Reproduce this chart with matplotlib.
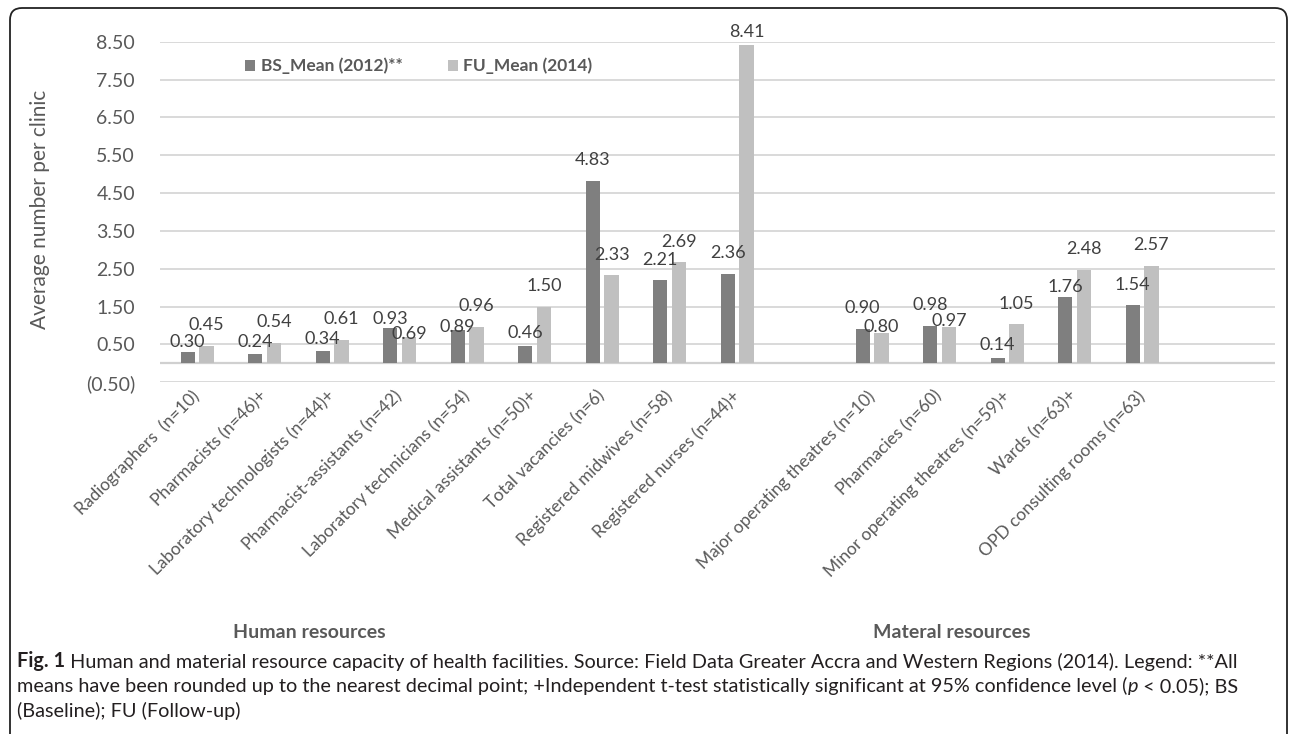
import numpy as np
import matplotlib.pyplot as plt
from matplotlib.patches import FancyBboxPatch, Patch
from matplotlib.transforms import IdentityTransform

plt.rcParams['font.family'] = ['Lato', 'DejaVu Sans']

# data
human_labels = ['Radiographers  (n=10)', 'Pharmacists (n=46)+', 'Laboratory technologists (n=44)+',
                'Pharmacist-assistants (n=42)', 'Laboratory technicians (n=54)',
                'Medical assistants (n=50)+', 'Total vacancies (n=6)',
                'Registered midwives (n=58)', 'Registered nurses (n=44)+']
human_bs = [0.30, 0.24, 0.34, 0.93, 0.89, 0.46, 4.83, 2.21, 2.36]
human_fu = [0.45, 0.54, 0.61, 0.69, 0.96, 1.50, 2.33, 2.69, 8.41]

material_labels = ['Major operating theatres (n=10)', 'Pharmacies (n=60)',
                   'Minor operating theatres (n=59)+', 'Wards (n=63)+',
                   'OPD consulting rooms (n=63)']
material_bs = [0.90, 0.98, 0.14, 1.76, 1.54]
material_fu = [0.80, 0.97, 1.05, 2.48, 2.57]

yticks = [-0.5, 0.5, 1.5, 2.5, 3.5, 4.5, 5.5, 6.5, 7.5, 8.5]
ytick_labels = ['(0.50)', '0.50', '1.50', '2.50', '3.50', '4.50', '5.50', '6.50', '7.50', '8.50']

# label lift above the bar top (pixels), as placed in the original
bs_lift = [10, 12, 12, 9, 3, 13, 21, 20, 21, 21, 21, 13, 10, 20]
fu_lift = [21, 21, 21, 3, 21, 21, 20, 20, 13, 6, 6, 20, 21, 21]

dark = '#7f7f7f'
light = '#c0c0c0'
grey_txt = '#595959'

labels = human_labels + material_labels
bs = human_bs + material_bs
fu = human_fu + material_fu
x = np.concatenate([np.arange(len(human_labels)),
                    np.arange(len(material_labels)) + len(human_labels) + 1])

fig = plt.figure(figsize=(12.92, 7.34), dpi=100)
ax = fig.add_axes([160/1292, 1-382.3/734, (1275-160)/1292, (382.3-41.7)/734])

w = 0.21
off = 0.14
ax.bar(x - off, bs, w, color=dark, zorder=2)
ax.bar(x + off, fu, w, color=light, zorder=2)

for xi, v, lift in zip(x - off, bs, bs_lift):
    ax.annotate('%.2f' % v, (xi, v), xytext=(0, lift*0.72), textcoords='offset points',
                ha='center', va='center', fontsize=13, color='#404040', annotation_clip=False)
for xi, v, lift in zip(x + off, fu, fu_lift):
    ax.annotate('%.2f' % v, (xi, v), xytext=(0, lift*0.72), textcoords='offset points',
                ha='center', va='center', fontsize=13, color='#404040', annotation_clip=False)

ax.set_xlim(-0.55, 15.97)
ax.set_ylim(-0.5, 8.5)
ax.set_yticks(yticks)
ax.set_yticklabels(ytick_labels, fontsize=14, color=grey_txt)
ax.set_xticks(x)
ax.set_xticklabels(labels, rotation=45, ha='right', va='center', rotation_mode='anchor',
                   fontsize=12.5, color=grey_txt)
ax.tick_params(axis='y', length=0, pad=18)
ax.tick_params(axis='x', length=0, pad=8)
for s in ax.spines.values():
    s.set_visible(False)
ax.yaxis.grid(True, color='#d9d9d9', lw=1.4)
ax.axhline(0, color='#d0d0d0', lw=1.6, zorder=1)
ax.set_axisbelow(True)

handles = [Patch(facecolor=dark), Patch(facecolor=light)]
leg = ax.legend(handles, ['BS_Mean (2012)**', 'FU_Mean (2014)'], ncol=2, frameon=False,
                loc='center left', bbox_to_anchor=(245/1292, 1-66/734),
                bbox_transform=fig.transFigure, borderpad=0, borderaxespad=0,
                handlelength=0.6, handleheight=0.6, handletextpad=0.3, columnspacing=2.6,
                prop={'weight': 'bold', 'size': 12.5})
for t in leg.get_texts():
    t.set_color(grey_txt)

fig.text(40/1292, 1-209/734, 'Average number per clinic', rotation=90, ha='center', va='center',
         fontsize=15, color=grey_txt)

fig.text(309/1292, 1-632/734, 'Human resources', ha='center', va='center',
         fontsize=14, fontweight='bold', color=grey_txt)
fig.text(952/1292, 1-632/734, 'Materal resources', ha='center', va='center',
         fontsize=14, fontweight='bold', color=grey_txt)

# caption, written piece by piece so the bold / italic bits sit inline
cap = dict(fontsize=14.3, color='#231f20')

prev = fig.text(17/1292, 1-661/734, 'Fig. 1', va='center', ha='left', fontweight='bold', **cap)
ax.annotate(' Human and material resource capacity of health facilities. Source: Field Data Greater '
            'Accra and Western Regions (2014). Legend: **All', xy=(1, 0), xycoords=prev,
            va='bottom', ha='left', annotation_clip=False, **cap)

prev = fig.text(17/1292, 1-686/734, 'means have been rounded up to the nearest decimal point; '
                '+Independent t-test statistically significant at 95% confidence level (',
                va='center', ha='left', **cap)
prev = ax.annotate('p', xy=(1, 0), xycoords=prev, va='bottom', ha='left',
                   style='italic', annotation_clip=False, **cap)
ax.annotate(' < 0.05); BS', xy=(1, 0), xycoords=prev, va='bottom', ha='left',
            annotation_clip=False, **cap)

fig.text(17/1292, 1-711/734, '(Baseline); FU (Follow-up)', va='center', ha='left', **cap)

border = FancyBboxPatch((10, -30), 1277, 734 - 8 + 30,
                        boxstyle='round,pad=0,rounding_size=12',
                        transform=IdentityTransform(), fill=False, ec='#222222', lw=1.3)
fig.add_artist(border)

fig.savefig('out.png', dpi=100)
